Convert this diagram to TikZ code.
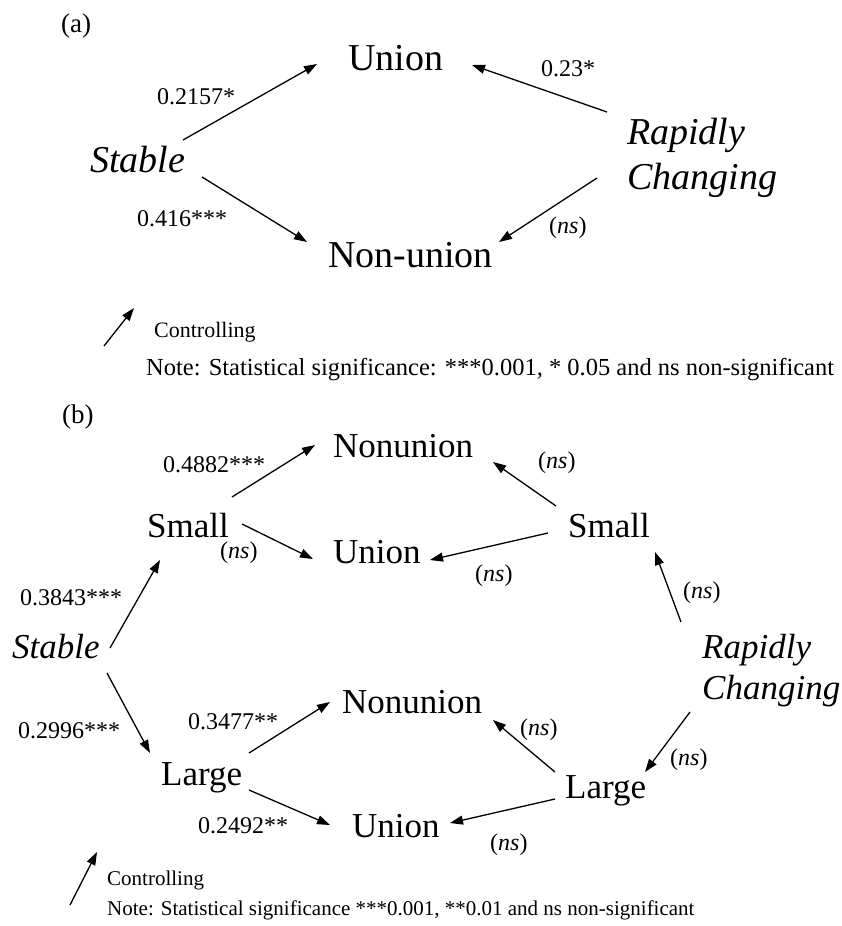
\documentclass[tikz,border=0pt]{standalone}
\usepackage{fontspec}
\setmainfont{Liberation Serif}
\usetikzlibrary{arrows.meta}

\newcommand{\nsig}{(\textit{ns})}

\begin{document}
\begin{tikzpicture}[x=1pt,y=-1pt]
	\tikzstyle{BigA}=[inner sep=0pt,anchor=base west,font=\fontsize{38}{45}\selectfont]
	\tikzstyle{BigB}=[inner sep=0pt,anchor=base west,font=\fontsize{35}{41}\selectfont]
	\tikzstyle{LabelStyle}=[inner sep=0pt,anchor=base west,font=\fontsize{24}{28}\selectfont]
	\tikzstyle{NoteStyle}=[inner sep=0pt,anchor=base west,font=\fontsize{22}{26}\selectfont]
	\tikzstyle{EdgeStyle}=[line width=1.3pt,-{Triangle[length=13pt,width=9pt]}]
	\useasboundingbox (0,0) rectangle (841,926);
	% (a)
	\node[LabelStyle,font=\fontsize{27}{30}\selectfont] (TagA) at (61,32) {(a)};
	\node[BigA] (UnionA) at (348,70) {Union};
	\node[BigA] (NonunionA) at (328,267) {Non-union};
	\node[BigA] (StableA) at (90,172) {\itshape Stable};
	\node[BigA,anchor=west,align=left] (RapidA) at (627,158) {\itshape Rapidly\\\itshape Changing};
	\draw[EdgeStyle] ([shift={(93,-32)}]StableA.base west) -- ([shift={(-31,-6)}]UnionA.base west);
	\draw[EdgeStyle] ([shift={(112,5)}]StableA.base west) -- ([shift={(-21,-25)}]NonunionA.base west);
	\draw[EdgeStyle] ([shift={(-20,-46)}]RapidA.west) -- ([shift={(124,-5)}]UnionA.base west);
	\draw[EdgeStyle] ([shift={(-30,20)}]RapidA.west) -- ([shift={(171,-25)}]NonunionA.base west);
	\node[LabelStyle] (wSU) at (157,104) {0.2157*};
	\node[LabelStyle] (wSN) at (137,226) {0.416***};
	\node[LabelStyle] (wRU) at (541,76) {0.23*};
	\node[LabelStyle] (wRN) at (549,233) {\nsig};
	% legend (a)
	\coordinate (ctrlA0) at (104,346);
	\coordinate (ctrlA1) at (134,308);
	\draw[EdgeStyle] (ctrlA0) -- (ctrlA1);
	\node[NoteStyle] (CtrlA) at (154,337) {Controlling};
	\node[NoteStyle,font=\fontsize{24.5}{28}\selectfont] (NoteA) at (146,375) {Note: Statistical significance: ***0.001, * 0.05 and ns non-significant};
	% (b)
	\node[LabelStyle,font=\fontsize{27}{30}\selectfont] (TagB) at (62,423) {(b)};
	\node[BigB] (NonunionB1) at (333,457) {Nonunion};
	\node[BigB] (UnionB1) at (333,563) {Union};
	\node[BigB] (SmallL) at (147,537) {Small};
	\node[BigB] (SmallR) at (568,537) {Small};
	\node[BigB] (StableB) at (12,658) {\itshape Stable};
	\node[BigB,anchor=west,align=left] (RapidB) at (702,671) {\itshape Rapidly\\\itshape Changing};
	\node[BigB] (LargeL) at (161,785) {Large};
	\node[BigB] (LargeR) at (565,798) {Large};
	\node[BigB] (NonunionB2) at (342,713) {Nonunion};
	\node[BigB] (UnionB2) at (352,837) {Union};
	\draw[EdgeStyle] ([shift={(85,-40)}]SmallL.base west) -- ([shift={(-18,-12)}]NonunionB1.base west);
	\draw[EdgeStyle] ([shift={(95,-13)}]SmallL.base west) -- ([shift={(-20,-4)}]UnionB1.base west);
	\draw[EdgeStyle] ([shift={(98,-10)}]StableB.base west) -- ([shift={(13,23)}]SmallL.base west);
	\draw[EdgeStyle] ([shift={(-12,-31)}]SmallR.base west) -- ([shift={(160,5)}]NonunionB1.base west);
	\draw[EdgeStyle] ([shift={(-20,-4)}]SmallR.base west) -- ([shift={(97,-3)}]UnionB1.base west);
	\draw[EdgeStyle] ([shift={(-21,-49)}]RapidB.west) -- ([shift={(87,15)}]SmallR.base west);
	\draw[EdgeStyle] ([shift={(-12,41)}]RapidB.west) -- ([shift={(80,-26)}]LargeR.base west);
	\draw[EdgeStyle] ([shift={(95,15)}]StableB.base west) -- ([shift={(-11,-32)}]LargeL.base west);
	\draw[EdgeStyle] ([shift={(88,-32)}]LargeL.base west) -- ([shift={(-12,-11)}]NonunionB2.base west);
	\draw[EdgeStyle] ([shift={(88,5)}]LargeL.base west) -- ([shift={(-22,-12)}]UnionB2.base west);
	\draw[EdgeStyle] ([shift={(-10,-26)}]LargeR.base west) -- ([shift={(151,7)}]NonunionB2.base west);
	\draw[EdgeStyle] ([shift={(-10,1)}]LargeR.base west) -- ([shift={(98,-14)}]UnionB2.base west);
	\node[LabelStyle] (wSmN) at (163,472) {0.4882***};
	\node[LabelStyle] (wSmU) at (220,558) {\nsig};
	\node[LabelStyle] (wStSm) at (20,605) {0.3843***};
	\node[LabelStyle] (wSmRN) at (538,468) {\nsig};
	\node[LabelStyle] (wSmRU) at (475,581) {\nsig};
	\node[LabelStyle] (wRSm) at (683,598) {\nsig};
	\node[LabelStyle] (wStL) at (18,738) {0.2996***};
	\node[LabelStyle] (wLN) at (188,729) {0.3477**};
	\node[LabelStyle] (wLU) at (198,833) {0.2492**};
	\node[LabelStyle] (wLRN) at (520,735) {\nsig};
	\node[LabelStyle] (wRL) at (670,765) {\nsig};
	\node[LabelStyle] (wLRU) at (490,850) {\nsig};
	% legend (b)
	\coordinate (ctrlB0) at (70,905);
	\coordinate (ctrlB1) at (97,852);
	\draw[EdgeStyle] (ctrlB0) -- (ctrlB1);
	\node[NoteStyle,font=\fontsize{21}{25}\selectfont] (CtrlB) at (107,885) {Controlling};
	\node[NoteStyle,font=\fontsize{21}{25}\selectfont] (NoteB) at (107,915) {Note: Statistical significance ***0.001, **0.01 and ns non-significant};
\end{tikzpicture}
\end{document}
